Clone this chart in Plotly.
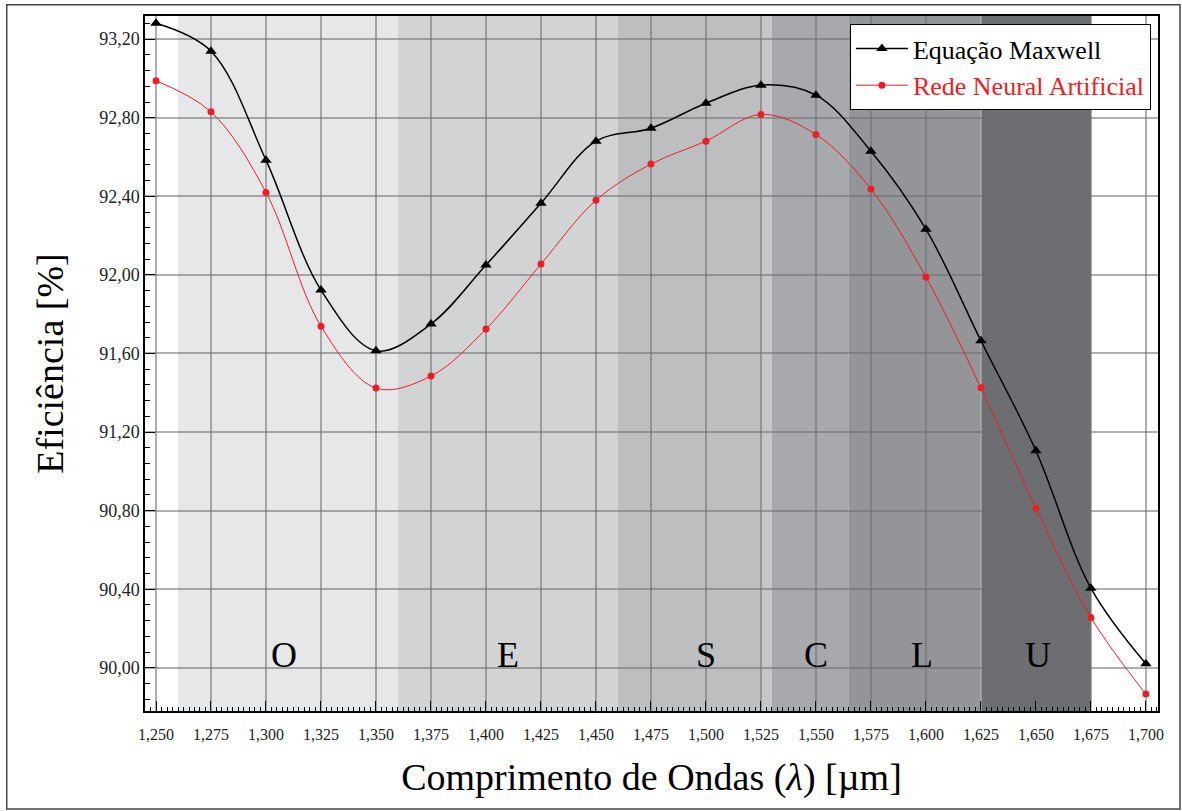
import plotly.graph_objects as go

# ---- data ----
wavelength = [1.250, 1.275, 1.300, 1.325, 1.350, 1.375, 1.400, 1.425, 1.450, 1.475,
              1.500, 1.525, 1.550, 1.575, 1.600, 1.625, 1.650, 1.675, 1.700]
maxwell = [93.281, 93.139, 92.584, 91.923, 91.614, 91.750, 92.050, 92.365, 92.681, 92.747,
           92.874, 92.966, 92.915, 92.630, 92.233, 91.665, 91.105, 90.405, 90.020]
rna = [92.988, 92.830, 92.420, 91.739, 91.424, 91.485, 91.724, 92.055, 92.380, 92.564,
       92.681, 92.817, 92.715, 92.437, 91.989, 91.425, 90.812, 90.256, 89.866]

band_names = ["O", "E", "S", "C", "L", "U"]
band_starts = [1.260, 1.360, 1.460, 1.530, 1.565, 1.625]
band_ends = [1.360, 1.460, 1.525, 1.565, 1.625, 1.675]
band_colors = ["#e6e7e8", "#d1d3d4", "#bcbec0", "#a7a9ac", "#939598", "#6d6e71"]
band_label_x = [1.308, 1.410, 1.500, 1.550, 1.598, 1.651]

FONT = "Liberation Serif"
RED = "#ee1c25"

fig = go.Figure()

fig.add_trace(go.Scatter(
    x=wavelength, y=maxwell, mode="lines+markers",
    name="Equação Maxwell",
    line=dict(color="black", width=1.5, shape="spline", smoothing=1.0),
    marker=dict(symbol="triangle-up", size=10, color="black"),
))
fig.add_trace(go.Scatter(
    x=wavelength, y=rna, mode="lines+markers",
    name='<span style="color:%s">Rede Neural Artificial</span>' % RED,
    line=dict(color=RED, width=1, shape="spline", smoothing=1.0),
    marker=dict(symbol="circle", size=7, color=RED),
))

shapes = []
for x0, x1, c in zip(band_starts, band_ends, band_colors):
    shapes.append(dict(type="rect", xref="x", yref="paper", x0=x0, x1=x1, y0=0, y1=1,
                       fillcolor=c, line=dict(width=0), layer="below"))
# light strip between S and C
shapes.append(dict(type="rect", xref="x", yref="paper", x0=band_ends[2], x1=band_starts[3],
                   y0=0, y1=1, fillcolor="#c4c6c8", line=dict(width=0), layer="below"))
# white separator between L and U
shapes.append(dict(type="line", xref="x", yref="paper", x0=1.625, x1=1.625, y0=0, y1=1,
                   line=dict(color="white", width=1.5), layer="between"))
# outer figure border
shapes.append(dict(type="rect", xref="paper", yref="paper", x0=-0.1365, x1=1.0217,
                   y0=-0.1410, y1=1.0163, line=dict(color="#444", width=1.5),
                   fillcolor="rgba(0,0,0,0)", layer="above"))

annotations = []
for name, xc in zip(band_names, band_label_x):
    annotations.append(dict(x=xc, y=90.066, xref="x", yref="y", text=name, showarrow=False,
                            font=dict(family=FONT, size=36, color="black"),
                            xanchor="center", yanchor="middle"))

grid_col = "rgba(110,110,110,0.55)"

fig.update_layout(
    width=1182, height=811,
    margin=dict(l=145, r=24, t=16, b=100),
    paper_bgcolor="white", plot_bgcolor="white",
    separators=",.",
    font=dict(family=FONT, color="black"),
    shapes=shapes, annotations=annotations,
    showlegend=True,
    legend=dict(x=0.993, y=0.9885, xanchor="right", yanchor="top",
                bgcolor="white", bordercolor="black", borderwidth=1,
                font=dict(family=FONT, size=26, color="black"),
                itemwidth=52, tracegroupgap=0),
    xaxis=dict(
        range=[1.245, 1.7055], tick0=1.25, dtick=0.025, tickformat=".3f",
        showgrid=True, gridcolor=grid_col, gridwidth=1.5, zeroline=False,
        showline=True, linecolor="black", linewidth=1.5, mirror=True,
        ticks="inside", ticklen=10, tickwidth=1, tickcolor="black",
        minor=dict(ticks="inside", ticklen=4, dtick=0.0025, tickcolor="black", showgrid=False),
        tickfont=dict(family=FONT, size=16, color="#222"), ticklabelstandoff=8,
        title=dict(text="Comprimento de Ondas (<i>λ</i>) [µm]",
                   font=dict(family=FONT, size=38, color="black"), standoff=21),
    ),
    yaxis=dict(
        range=[89.78, 93.318], tick0=90.0, dtick=0.4, tickformat=".2f",
        showgrid=True, gridcolor=grid_col, gridwidth=1.5, zeroline=False,
        showline=True, linecolor="black", linewidth=1.5, mirror=True,
        ticks="inside", ticklen=10, tickwidth=1, tickcolor="black",
        minor=dict(ticks="inside", ticklen=5, dtick=0.08, tickcolor="black", showgrid=False),
        tickfont=dict(family=FONT, size=18, color="#222"),
        title=dict(text="Eficiência [%]",
                   font=dict(family=FONT, size=38, color="black"), standoff=24),
    ),
)

fig.write_html("out.html")
